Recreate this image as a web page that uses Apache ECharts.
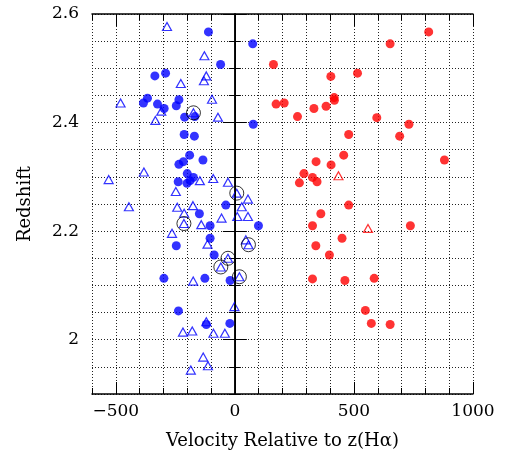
<!DOCTYPE html>
<html>
<head>
<meta charset="UTF-8">
<title>Redshift vs velocity</title>
<script src="https://cdn.jsdelivr.net/npm/echarts@6/dist/echarts.min.js"></script>
<style>
  html, body { margin: 0; padding: 0; background: #fff; }
  #chart { width: 514px; height: 462px; }
</style>
</head>
<body>
<div id="chart"></div>
<script>
// tick labels
var xLabelTicks = [-500, 0, 500, 1000];
var yLabelTicks = [2, 2.2, 2.4, 2.6];

// [velocity, redshift]
var blueCircles = [
  [-111, 2.567], [75, 2.545], [-60, 2.507], [-336, 2.486], [-291, 2.491],
  [-367, 2.445], [-384, 2.436], [-325, 2.434], [-297, 2.426], [-235, 2.442],
  [-246, 2.431], [-211, 2.410], [-168, 2.411], [77, 2.397], [-213, 2.378],
  [-170, 2.375], [-190, 2.340], [-134, 2.331], [-216, 2.328], [-235, 2.323],
  [-200, 2.306], [-174, 2.299], [-188, 2.293], [-238, 2.291], [-201, 2.288],
  [-38, 2.248], [-149, 2.232], [-104, 2.210], [99, 2.210], [-104, 2.187],
  [-246, 2.173], [-87, 2.156], [-298, 2.113], [-126, 2.113], [-20, 2.109],
  [-237, 2.053], [-120, 2.028], [-21, 2.030]
];
var blueTriangles = [
  [-285, 2.577], [-128, 2.523], [-120, 2.486], [-130, 2.477], [-227, 2.472],
  [-480, 2.436], [-96, 2.443], [-309, 2.421], [-334, 2.404], [-71, 2.410],
  [-382, 2.309], [-530, 2.295], [-147, 2.293], [-91, 2.297], [-29, 2.290],
  [-248, 2.273], [55, 2.259], [-445, 2.245], [-242, 2.244], [-176, 2.247],
  [29, 2.245], [-213, 2.233], [-56, 2.224], [10, 2.227], [55, 2.227],
  [-141, 2.212], [-264, 2.196], [-115, 2.176], [46, 2.184], [-175, 2.108],
  [-2, 2.061], [-120, 2.033], [-218, 2.014], [-179, 2.016], [-90, 2.012],
  [-42, 2.012], [-133, 1.968], [-113, 1.952], [-185, 1.944]
];
// triangles that carry a black ring
var circledTriangles = [
  [-174, 2.418], [8, 2.270], [-214, 2.214], [57, 2.175], [-29, 2.150],
  [-59, 2.134], [19, 2.116]
];
var redCircles = [
  [814, 2.567], [652, 2.545], [162, 2.507], [403, 2.485], [515, 2.491],
  [173, 2.434], [207, 2.436], [263, 2.411], [332, 2.426], [383, 2.430],
  [417, 2.446], [418, 2.441], [596, 2.409], [731, 2.397], [478, 2.378],
  [692, 2.375], [457, 2.340], [341, 2.328], [404, 2.322], [880, 2.331],
  [290, 2.306], [326, 2.299], [345, 2.291], [271, 2.289], [478, 2.248],
  [361, 2.232], [326, 2.210], [737, 2.210], [450, 2.187], [340, 2.173],
  [397, 2.156], [326, 2.112], [462, 2.109], [585, 2.113], [548, 2.054],
  [573, 2.030], [652, 2.028]
];
var redTriangles = [[435, 2.302], [559, 2.205]];

var FONT = 'DejaVu Serif';
var dots = { color: '#222', width: 1, type: [1, 2] };

function minusFmt(v) {
  return v < 0 ? '\u2212' + Math.abs(v) : String(v);
}

// one axis with the 100 / 0.05 grid and short ticks, one with long ticks and labels
function xAxes(pos) {
  var bottom = pos === 'bottom';
  return [
    {
      type: 'value', position: pos, min: -600, max: 1000, interval: 100,
      axisLine: { show: true, lineStyle: { color: '#000', width: 1.5 } },
      axisTick: { show: true, inside: true, length: 6, lineStyle: { color: '#000', width: 1 } },
      axisLabel: { show: false },
      splitLine: { show: bottom, lineStyle: dots }
    },
    {
      type: 'value', position: pos, min: -600, max: 1000,
      axisLine: { show: false },
      axisTick: { show: true, inside: true, length: 12, customValues: xLabelTicks,
        lineStyle: { color: '#000', width: 1 } },
      axisLabel: { show: bottom, customValues: xLabelTicks, formatter: minusFmt,
        fontFamily: FONT, fontSize: 17, color: '#000', margin: 9 },
      splitLine: { show: false },
      name: bottom ? 'Velocity Relative to z(H\u03b1)' : '',
      nameLocation: 'middle', nameGap: 38,
      nameTextStyle: { fontFamily: FONT, fontSize: 18, color: '#000' }
    }
  ];
}

function yAxes(pos) {
  var left = pos === 'left';
  return [
    {
      type: 'value', position: pos, min: 1.9, max: 2.6, interval: 0.05,
      axisLine: { show: true, lineStyle: { color: '#000', width: 1.5 } },
      axisTick: { show: true, inside: true, length: 6, lineStyle: { color: '#000', width: 1 } },
      axisLabel: { show: false },
      splitLine: { show: left, lineStyle: dots }
    },
    {
      type: 'value', position: pos, min: 1.9, max: 2.6,
      axisLine: { show: false },
      axisTick: { show: true, inside: true, length: 12, customValues: yLabelTicks,
        lineStyle: { color: '#000', width: 1 } },
      axisLabel: { show: left, customValues: yLabelTicks, formatter: function (v) { return String(v); },
        fontFamily: FONT, fontSize: 17, color: '#000', margin: 13 },
      splitLine: { show: false },
      name: left ? 'Redshift' : '',
      nameLocation: 'middle', nameGap: 58,
      nameTextStyle: { fontFamily: FONT, fontSize: 18, color: '#000' }
    }
  ];
}

var chart = echarts.init(document.getElementById('chart'), null, { renderer: 'canvas' });

var option = {
  animation: false,
  backgroundColor: '#fff',
  grid: { left: 92, right: 41, top: 14, bottom: 68, containLabel: false },
  xAxis: xAxes('bottom').concat(xAxes('top')),
  yAxis: yAxes('left').concat(yAxes('right')),
  series: [
    {
      type: 'scatter', data: blueTriangles.concat(circledTriangles),
      symbol: 'triangle', symbolSize: [9, 8], silent: true,
      itemStyle: { color: 'rgba(0,0,0,0)', borderColor: '#0000ff', borderWidth: 1.2 },
      markLine: {
        silent: true, symbol: 'none', label: { show: false },
        lineStyle: { color: '#000', width: 1, type: 'solid' },
        data: [{ xAxis: 0 }]
      }
    },
    {
      type: 'scatter', data: blueCircles, symbol: 'circle', symbolSize: 9, silent: true,
      itemStyle: { color: '#0000ff' }
    },
    {
      type: 'scatter', data: redCircles, symbol: 'circle', symbolSize: 9, silent: true,
      itemStyle: { color: '#ff0000' }
    },
    {
      type: 'scatter', data: redTriangles, symbol: 'triangle', symbolSize: [9, 8], silent: true,
      itemStyle: { color: 'rgba(0,0,0,0)', borderColor: '#ff0000', borderWidth: 1.2 }
    },
    {
      type: 'scatter', data: circledTriangles, symbol: 'circle', symbolSize: 14, silent: true,
      itemStyle: { color: 'rgba(0,0,0,0)', borderColor: '#000', borderWidth: 1 }
    }
  ]
};

chart.setOption(option);
</script>
</body>
</html>
